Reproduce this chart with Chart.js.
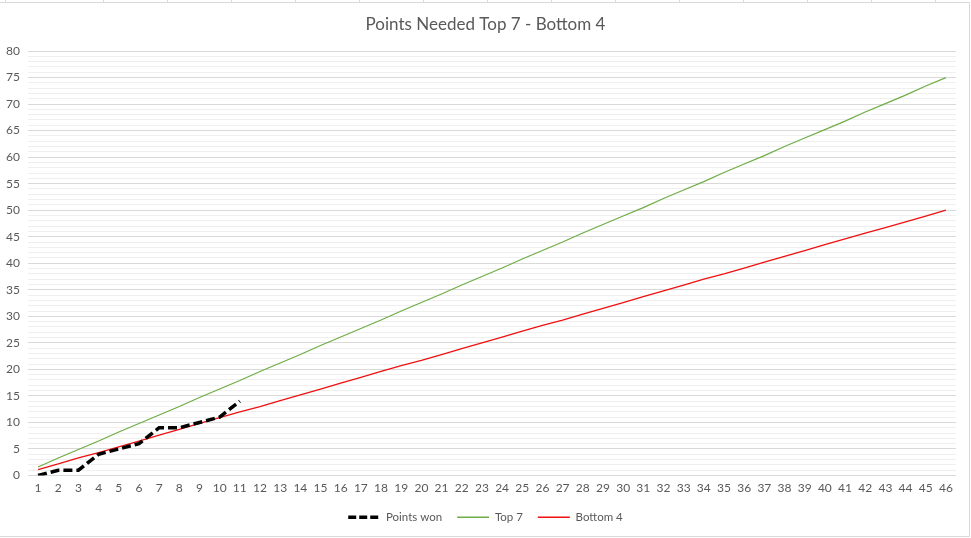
<!DOCTYPE html>
<html>
<head>
<meta charset="utf-8">
<script src="https://cdn.jsdelivr.net/npm/chart.js@4/dist/chart.umd.min.js"></script>
<style>
  html, body { margin: 0; padding: 0; background: #ffffff; }
  #wrap { width: 971px; height: 538px; position: relative; }
</style>
</head>
<body>
<div id="wrap"><canvas id="c" width="971" height="538"></canvas></div>
<script>
const chartTitle = "Points Needed Top 7 - Bottom 4";
const games = ["1","2","3","4","5","6","7","8","9","10","11","12","13","14","15","16","17","18","19","20","21","22","23","24","25","26","27","28","29","30","31","32","33","34","35","36","37","38","39","40","41","42","43","44","45","46"];
const pointsWon = [0, 1, 1, 4, 5, 6, 9, 9, 10, 11, 14];
const top7 = [1.6, 3.3, 4.9, 6.5, 8.2, 9.8, 11.4, 13.0, 14.7, 16.3, 17.9, 19.6, 21.2, 22.8, 24.5, 26.1, 27.7, 29.3, 31.0, 32.6, 34.2, 35.9, 37.5, 39.1, 40.8, 42.4, 44.0, 45.7, 47.3, 48.9, 50.5, 52.2, 53.8, 55.4, 57.1, 58.7, 60.3, 62.0, 63.6, 65.2, 66.8, 68.5, 70.1, 71.7, 73.4, 75.0];
const bottom4 = [1.1, 2.2, 3.3, 4.3, 5.4, 6.5, 7.6, 8.7, 9.8, 10.9, 12.0, 13.0, 14.1, 15.2, 16.3, 17.4, 18.5, 19.6, 20.7, 21.7, 22.8, 23.9, 25.0, 26.1, 27.2, 28.3, 29.3, 30.4, 31.5, 32.6, 33.7, 34.8, 35.9, 37.0, 38.0, 39.1, 40.2, 41.3, 42.4, 43.5, 44.6, 45.7, 46.7, 47.8, 48.9, 50.0];
const yMin = 0, yMax = 80, yStep = 1, yLabelEvery = 5;

const frame = {
  id: 'frame',
  beforeDraw(chart) {
    const ctx = chart.ctx;
    ctx.save();
    ctx.strokeStyle = '#d9d9d9';
    ctx.lineWidth = 1;
    ctx.beginPath();
    ctx.moveTo(0, 2.5); ctx.lineTo(970, 2.5);
    [5, 103, 167, 231, 295, 359, 423, 487, 551, 615, 679, 743, 807, 871, 935].forEach(x => {
      ctx.moveTo(x + 0.5, 0); ctx.lineTo(x + 0.5, 2.5);
    });
    ctx.moveTo(969.5, 2.5); ctx.lineTo(969.5, 537);
    ctx.moveTo(0, 536.5); ctx.lineTo(970, 536.5);
    ctx.stroke();
    ctx.restore();
  }
};

new Chart(document.getElementById('c'), {
  type: 'line',
  data: {
    labels: games,
    datasets: [
      { label: 'Points won', data: pointsWon, borderColor: '#000000', backgroundColor: '#000000',
        borderWidth: 3.5, borderDash: [9, 4], pointRadius: 0, tension: 0, fill: false },
      { label: 'Top 7', data: top7, borderColor: '#70ad47', backgroundColor: '#70ad47',
        borderWidth: 1.3, pointRadius: 0, tension: 0, fill: false },
      { label: 'Bottom 4', data: bottom4, borderColor: '#f01010', backgroundColor: '#f01010',
        borderWidth: 1.3, pointRadius: 0, tension: 0, fill: false }
    ]
  },
  options: {
    responsive: false,
    animation: false,
    devicePixelRatio: 1,
    layout: { padding: { left: 0, right: 0, top: 0, bottom: 5 } },
    plugins: {
      title: {
        display: true, text: chartTitle, color: '#595959',
        font: { family: 'Lato', size: 17, weight: 'normal' },
        padding: { top: 14, bottom: 16.6 }
      },
      legend: {
        position: 'bottom',
        labels: {
          usePointStyle: true, pointStyle: 'line', pointStyleWidth: 32,
          color: '#595959', font: { family: 'Lato', size: 11.5 }, padding: 15,
          generateLabels: chart => Chart.defaults.plugins.legend.labels.generateLabels(chart).map(l => {
            const ds = chart.data.datasets[l.datasetIndex];
            l.lineDash = ds.borderDash ? [8, 3] : [];
            l.lineWidth = ds.borderWidth;
            l.strokeStyle = ds.borderColor;
            return l;
          })
        }
      },
      tooltip: { enabled: false }
    },
    scales: {
      x: {
        type: 'category', offset: true,
        grid: { display: false, drawTicks: false },
        border: { display: false },
        ticks: { color: '#595959', font: { family: 'Lato', size: 12 }, padding: 5, autoSkip: false, maxRotation: 0 },
        afterFit: s => { s.height = 21; s.paddingRight = 15; }
      },
      y: {
        min: yMin, max: yMax,
        grid: {
          drawTicks: false,
          color: c => (c.tick && c.tick.value % yLabelEvery === 0) ? '#d9d9d9' : '#efefef',
          lineWidth: 1
        },
        border: { display: false },
        ticks: {
          stepSize: yStep, autoSkip: false, padding: 8, color: '#595959',
          font: { family: 'Lato', size: 12 },
          callback: v => (v % yLabelEvery === 0 ? String(v) : '')
        },
        afterFit: s => { s.width = 28; }
      }
    }
  },
  plugins: [frame]
});
</script>
</body>
</html>
